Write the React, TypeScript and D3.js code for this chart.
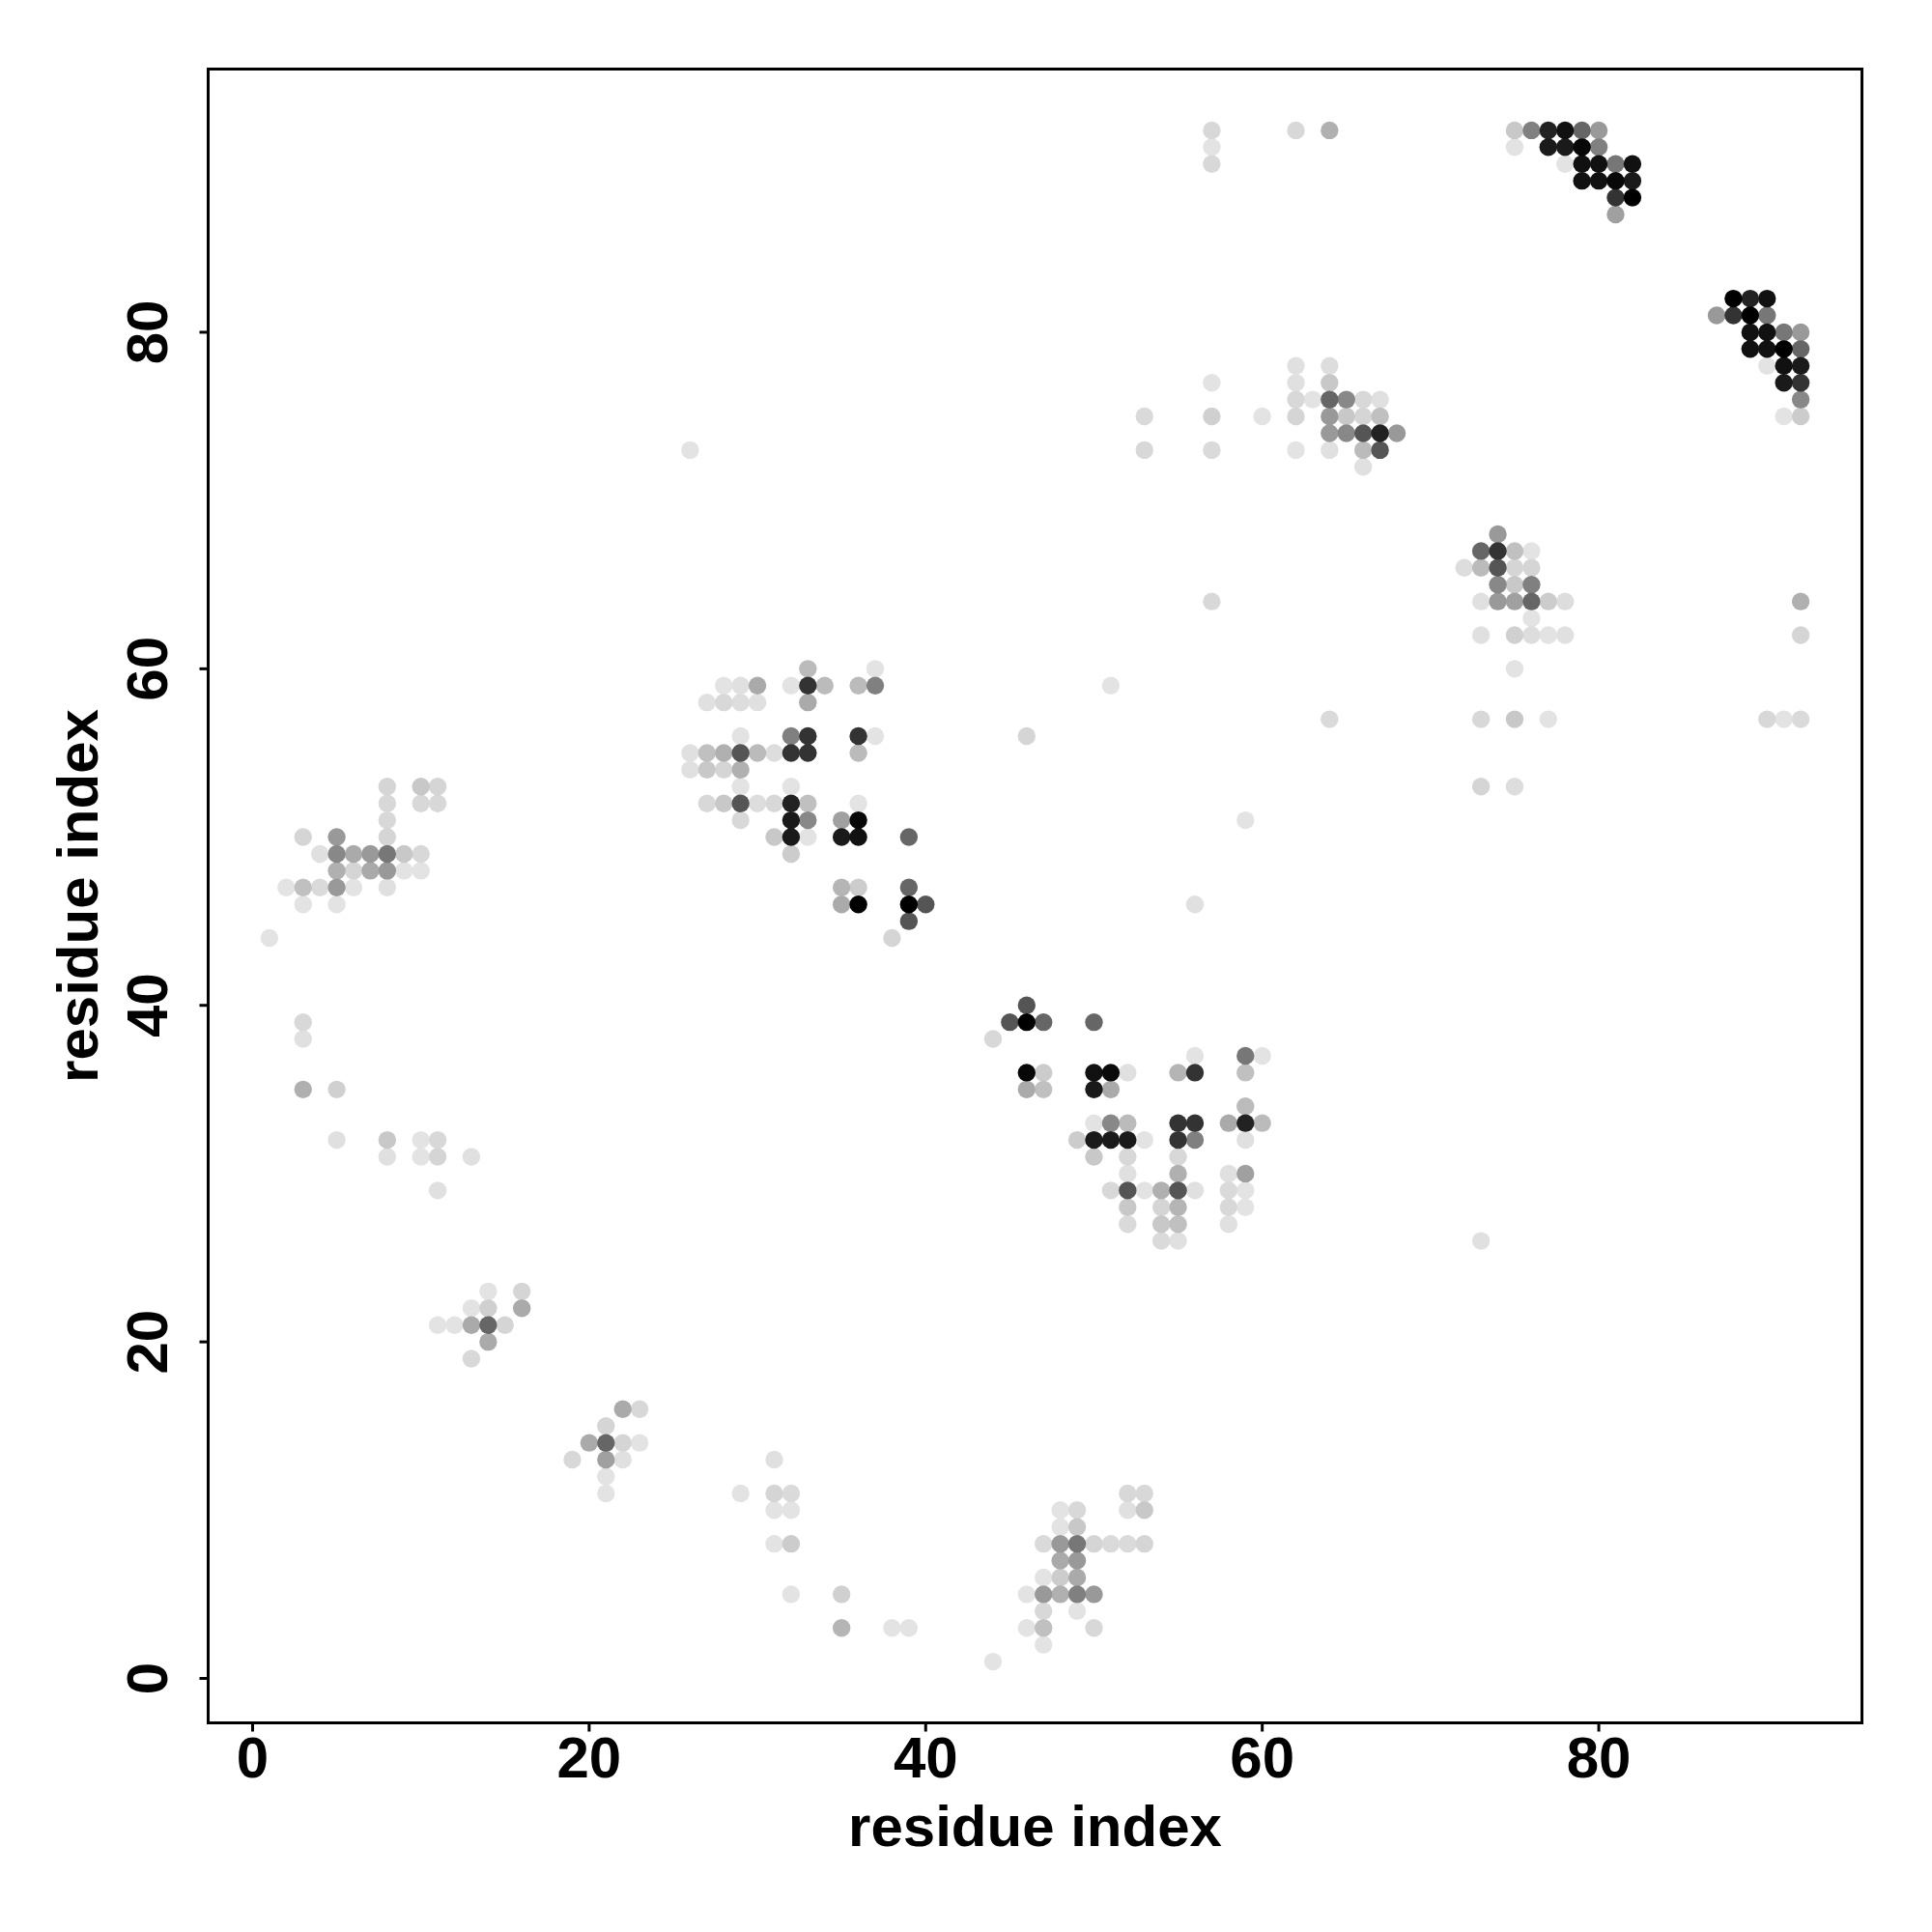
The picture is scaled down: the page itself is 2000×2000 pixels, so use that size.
import React from "react";
import * as d3 from "d3";

// Contact map: [residue i, residue j, grey level (0 = black, 255 = white)]
const contactsTopMiddle: [number, number, number][] = [
  [57,92,216],[57,91,227],[57,90,216],[62,92,216],[64,92,176],
  [62,78,224],[64,78,221],
  [57,77,227],[62,77,224],[64,77,200],
  [62,76,216],[63,76,227],[64,76,102],[65,76,136],[66,76,216],[67,76,224],
  [53,75,218],[57,75,208],[60,75,227],[62,75,213],[64,75,153],[65,75,200],[66,75,213],[67,75,192],
  [64,74,153],[65,74,136],[66,74,85],[67,74,34],[68,74,153],
  [53,73,216],[57,73,218],[62,73,227],[64,73,224],[66,73,187],[67,73,85],
  [66,72,224],
];

const contactsTopRight: [number, number, number][] = [
  [75,92,200],[76,92,128],[77,92,34],[78,92,17],[79,92,102],[80,92,153],
  [75,91,227],[77,91,26],[78,91,26],[79,91,8],[80,91,128],
  [78,90,227],[79,90,17],[80,90,17],[81,90,119],[82,90,17],
  [79,89,17],[80,89,17],[81,89,8],[82,89,26],
  [81,88,51],[82,88,0],
  [81,87,160],
  [88,82,0],[89,82,34],[90,82,17],
  [87,81,153],[88,81,51],[89,81,0],[90,81,119],
  [89,80,17],[90,80,17],[91,80,119],[92,80,153],
  [89,79,17],[90,79,17],[91,79,0],[92,79,102],
  [90,78,227],[91,78,17],[92,78,26],
  [91,77,26],[92,77,51],
  [92,76,136],
  [91,75,227],[92,75,204],
];

const contactsRight: [number, number, number][] = [
  [74,68,153],
  [73,67,102],[74,67,51],[75,67,192],[76,67,227],
  [72,66,221],[73,66,187],[74,66,85],[75,66,213],[76,66,213],
  [74,65,136],[75,65,200],[76,65,128],
  [73,64,224],[74,64,153],[75,64,160],[76,64,102],[77,64,204],[78,64,221],[92,64,176],
  [76,63,227],
  [73,62,224],[75,62,208],[76,62,221],[77,62,227],[78,62,224],[92,62,213],
  [75,60,227],
  [73,57,216],[75,57,200],[77,57,227],[90,57,216],[91,57,227],[92,57,218],
  [73,53,213],[75,53,221],
  [73,26,224],
  [57,64,216],[51,59,227],[46,56,213],[59,51,227],[56,46,224],[64,57,218],
];

const contactsCentre: [number, number, number][] = [
  [33,60,187],[37,60,227],
  [28,59,227],[29,59,224],[30,59,170],[32,59,227],[33,59,51],[34,59,187],[36,59,187],[37,59,128],
  [27,58,224],[28,58,216],[29,58,221],[30,58,224],[33,58,170],
  [29,56,227],[32,56,128],[33,56,51],[36,56,51],[37,56,227],
  [26,55,224],[27,55,192],[28,55,176],[29,55,85],[30,55,187],[31,55,221],[32,55,51],[33,55,51],[36,55,187],
  [26,54,224],[27,54,200],[28,54,213],[29,54,176],
  [29,53,227],[32,53,227],
  [27,52,216],[28,52,200],[29,52,85],[30,52,221],[31,52,216],[32,52,34],[33,52,192],[36,52,227],
  [29,51,216],[32,51,26],[33,51,136],[35,51,160],[36,51,8],
  [31,50,200],[32,50,26],[33,50,227],[35,50,26],[36,50,17],[39,50,102],
  [32,49,204],
  [35,47,181],[36,47,204],[39,47,102],
  [35,46,170],[36,46,0],[39,46,0],[40,46,85],
  [39,45,85],
  [38,44,213],
  [26,73,227],
];

const contactsLeft: [number, number, number][] = [
  [8,53,213],[10,53,200],[11,53,213],
  [8,52,216],[10,52,216],[11,52,216],
  [8,51,216],
  [3,50,213],[5,50,153],[8,50,213],
  [4,49,224],[5,49,136],[6,49,170],[7,49,153],[8,49,119],[9,49,200],[10,49,216],
  [5,48,176],[6,48,213],[7,48,170],[8,48,153],[9,48,227],[10,48,227],
  [2,47,227],[3,47,192],[4,47,218],[5,47,153],[6,47,227],[8,47,224],
  [3,46,227],[5,46,227],
  [1,44,227],
  [3,39,216],[3,38,224],[3,35,176],[5,35,208],
  [5,32,224],[8,32,200],[10,32,227],[11,32,216],
  [8,31,224],[10,31,227],[11,31,213],[13,31,224],
  [11,29,224],
  [14,23,227],[16,23,213],
  [13,22,227],[14,22,208],[16,22,170],
  [11,21,227],[12,21,227],[13,21,170],[14,21,102],[15,21,213],
  [14,20,170],
  [13,19,216],
];

const contactsLower: [number, number, number][] = [
  [46,40,85],
  [45,39,85],[46,39,0],[47,39,102],[50,39,102],
  [44,38,216],
  [56,37,227],[59,37,119],[60,37,227],
  [46,36,8],[47,36,204],[50,36,17],[51,36,10],[52,36,224],[55,36,181],[56,36,51],[59,36,192],
  [46,35,170],[47,35,192],[50,35,26],[51,35,170],
  [59,34,187],
  [50,33,227],[51,33,136],[52,33,187],[55,33,51],[56,33,51],[58,33,170],[59,33,34],[60,33,187],
  [49,32,204],[50,32,26],[51,32,26],[52,32,26],[53,32,227],[55,32,51],[56,32,128],[59,32,224],
  [50,31,200],[52,31,216],[55,31,216],
  [52,30,224],[55,30,176],[58,30,224],[59,30,160],
  [51,29,216],[52,29,85],[53,29,227],[54,29,176],[55,29,85],[56,29,224],[58,29,218],[59,29,227],
  [52,28,200],[54,28,213],[55,28,181],[58,28,216],[59,28,227],
  [52,27,218],[54,27,200],[55,27,192],[58,27,224],
  [54,26,218],[55,26,224],
];

const contactsBottom: [number, number, number][] = [
  [22,16,170],[23,16,216],
  [21,15,213],
  [20,14,170],[21,14,102],[22,14,213],[23,14,227],
  [19,13,216],[21,13,160],[22,13,224],[31,13,224],
  [21,12,227],
  [21,11,227],[29,11,227],[31,11,213],[32,11,218],
  [31,10,227],[32,10,227],
  [31,8,227],[32,8,204],
  [32,5,227],[35,5,208],
  [35,3,181],[38,3,227],[39,3,227],
  [52,11,216],[53,11,216],
  [48,10,227],[49,10,216],[52,10,224],[53,10,200],
  [48,9,227],[49,9,200],
  [47,8,218],[48,8,153],[49,8,119],[50,8,213],[51,8,218],[52,8,218],[53,8,213],
  [48,7,170],[49,7,153],
  [47,6,227],[48,6,204],[49,6,170],
  [46,5,227],[47,5,153],[48,5,176],[49,5,128],[50,5,153],
  [47,4,216],[49,4,227],
  [46,3,227],[47,3,192],[50,3,216],
  [47,2,227],
  [44,1,227],
];

const xTicks = [0, 20, 40, 60, 80];
const yTicks = [0, 20, 40, 60, 80];
const xLabel = "residue index";
const yLabel = "residue index";

const W = 2000;
const H = 2000;
const left = 215.5;
const right = 1927.5;
const top = 71.5;
const bottom = 1783.5;

export default function App() {
  const all = [
    ...contactsTopMiddle,
    ...contactsTopRight,
    ...contactsRight,
    ...contactsCentre,
    ...contactsLeft,
    ...contactsLower,
    ...contactsBottom,
  ];
  const xExt = d3.extent(all, (d) => d[0]) as [number, number];
  const yExt = d3.extent(all, (d) => d[1]) as [number, number];
  const padX = (xExt[1] - xExt[0]) * 0.04;
  const padY = (yExt[1] - yExt[0]) * 0.04;
  const x = d3.scaleLinear().domain([xExt[0] - padX, xExt[1] + padX]).range([left, right]);
  const y = d3.scaleLinear().domain([yExt[0] - padY, yExt[1] + padY]).range([bottom, top]);
  const sorted = [...all].sort((a, b) => b[2] - a[2]);
  const font = "'Liberation Sans', Arial, Helvetica, sans-serif";

  return (
    <svg
      width={W}
      height={H}
      viewBox={`0 0 ${W} ${H}`}
      style={{ position: "absolute", left: 0, top: 0, background: "#fff", display: "block" }}
    >
      <rect x={0} y={0} width={W} height={H} fill="#fff" />
      <g>
        {sorted.map((d, i) => (
          <circle
            key={i}
            cx={x(d[0])}
            cy={y(d[1])}
            r={9.2}
            fill={d3.rgb(d[2], d[2], d[2]).toString()}
          />
        ))}
      </g>
      <rect
        x={left}
        y={top}
        width={right - left}
        height={bottom - top}
        fill="none"
        stroke="#000"
        strokeWidth={3}
      />
      {xTicks.map((t) => (
        <g key={"x" + t}>
          <line x1={x(t)} x2={x(t)} y1={bottom} y2={bottom + 9} stroke="#000" strokeWidth={3} />
          <text
            x={x(t)}
            y={1840}
            textAnchor="middle"
            fontFamily={font}
            fontWeight="bold"
            fontSize={60}
            fill="#000"
          >
            {t}
          </text>
        </g>
      ))}
      {yTicks.map((t) => (
        <g key={"y" + t}>
          <line x1={left - 9} x2={left} y1={y(t)} y2={y(t)} stroke="#000" strokeWidth={3} />
          <text
            transform={`translate(173,${y(t)}) rotate(-90)`}
            textAnchor="middle"
            fontFamily={font}
            fontWeight="bold"
            fontSize={60}
            fill="#000"
          >
            {t}
          </text>
        </g>
      ))}
      <text
        x={(left + right) / 2}
        y={1911}
        textAnchor="middle"
        fontFamily={font}
        fontWeight="bold"
        fontSize={60}
        fill="#000"
      >
        {xLabel}
      </text>
      <text
        transform={`translate(101,${(top + bottom) / 2}) rotate(-90)`}
        textAnchor="middle"
        fontFamily={font}
        fontWeight="bold"
        fontSize={60}
        fill="#000"
      >
        {yLabel}
      </text>
    </svg>
  );
}
